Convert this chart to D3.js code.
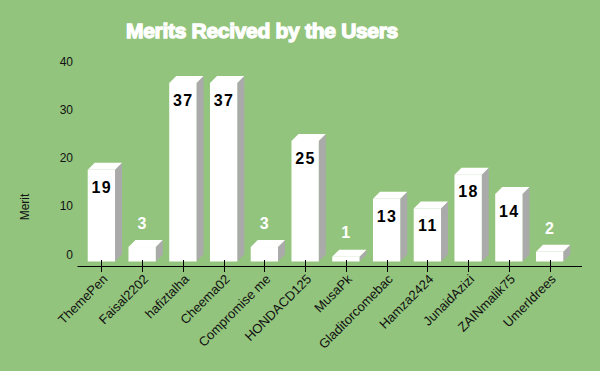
<!DOCTYPE html>
<html>
<head>
<meta charset="utf-8">
<script src="https://cdn.jsdelivr.net/npm/d3@7"></script>
<style>
  html, body { margin: 0; padding: 0; background: #93c47d; }
  svg { display: block; font-family: "Liberation Sans", Arial, sans-serif; }
</style>
</head>
<body>
<svg id="chart"></svg>
<script>
// chart data
var users = ["ThemePen", "Faisal2202", "hafiztalha", "Cheema02", "Compromise me", "HONDACD125",
  "MusaPk", "Gladitorcomebac", "Hamza2424", "JunaidAzizi", "ZAINmalik75", "UmerIdrees"];
var merits = [19, 3, 37, 37, 3, 25, 1, 13, 11, 18, 14, 2];
var yTicks = [0, 10, 20, 30, 40];

var width = 600, height = 371;
var depthX = 7, depthY = 7;

var svg = d3.select("#chart")
  .attr("width", width)
  .attr("height", height);

svg.append("rect")
  .attr("width", width)
  .attr("height", height)
  .attr("fill", "#93c47d");

var x = d3.scaleBand()
  .domain(users)
  .range([81, 570])
  .paddingInner(0.33)
  .paddingOuter(0.165);

// back plane scale, the front face sits depthY lower
var y = d3.scaleLinear()
  .domain([0, 40])
  .range([254.5, 61.5]);

// title
svg.append("text")
  .attr("x", 262)
  .attr("y", 38)
  .attr("text-anchor", "middle")
  .attr("fill", "#fff")
  .attr("stroke", "#fff")
  .attr("stroke-width", 1.3)
  .style("font-size", "21px")
  .style("font-weight", "bold")
  .style("letter-spacing", "-0.3px")
  .text("Merits Recived by the Users");

// y axis labels, no line
svg.append("g")
  .selectAll("text")
  .data(yTicks)
  .enter()
  .append("text")
  .attr("x", 73)
  .attr("y", function (d) { return y(d); })
  .attr("dy", "0.35em")
  .attr("text-anchor", "end")
  .attr("fill", "#111")
  .style("font-size", "12px")
  .text(function (d) { return d; });

svg.append("text")
  .attr("transform", "translate(29,207) rotate(-90)")
  .attr("text-anchor", "middle")
  .attr("fill", "#111")
  .style("font-size", "12px")
  .text("Merit");

// bars
var bars = svg.append("g")
  .selectAll("g")
  .data(merits)
  .enter()
  .append("g");

bars.append("path")
  .attr("fill", "#aaaaaa")
  .attr("d", function (d, i) {
    var x1 = x(users[i]) + x.bandwidth();
    var top = y(d) + depthY, bot = y(0) + depthY;
    return "M" + x1 + "," + top + "L" + (x1 + depthX) + "," + (top - depthY) +
      "L" + (x1 + depthX) + "," + (bot - depthY) + "L" + x1 + "," + bot + "Z";
  });

bars.append("path")
  .attr("fill", "#ffffff")
  .attr("d", function (d, i) {
    var x0 = x(users[i]), x1 = x0 + x.bandwidth();
    var top = y(d) + depthY;
    return "M" + x0 + "," + top + "L" + (x0 + depthX) + "," + (top - depthY) +
      "L" + (x1 + depthX) + "," + (top - depthY) + "L" + x1 + "," + top + "Z";
  });

bars.append("rect")
  .attr("fill", "#ffffff")
  .attr("x", function (d, i) { return x(users[i]); })
  .attr("y", function (d) { return y(d) + depthY; })
  .attr("width", x.bandwidth())
  .attr("height", function (d) { return y(0) - y(d); });

bars.append("text")
  .attr("x", function (d, i) { return x(users[i]) + x.bandwidth() / 2 + 0.5; })
  .attr("y", function (d) { return d > 5 ? y(d) + depthY + 17 : y(d) + depthY - 24; })
  .attr("dy", "0.36em")
  .attr("text-anchor", "middle")
  .attr("fill", function (d) { return d > 5 ? "#000" : "#fff"; })
  .style("font-size", "16px")
  .style("font-weight", "bold")
  .style("letter-spacing", "1.5px")
  .text(function (d) { return d; });

// x axis
var axis = svg.append("g");
axis.append("line")
  .attr("x1", 77.5).attr("x2", 582)
  .attr("y1", 266.5).attr("y2", 266.5)
  .attr("stroke", "#000");

axis.selectAll(".tick")
  .data(users)
  .enter()
  .append("line")
  .attr("class", "tick")
  .attr("x1", function (d) { return Math.round(x(d) + x.bandwidth() / 2) + 0.5; })
  .attr("x2", function (d) { return Math.round(x(d) + x.bandwidth() / 2) + 0.5; })
  .attr("y1", 260)
  .attr("y2", 272)
  .attr("stroke", "#000");

axis.selectAll(".lbl")
  .data(users)
  .enter()
  .append("text")
  .attr("class", "lbl")
  .attr("text-anchor", "end")
  .attr("fill", "#111")
  .style("font-size", "13px")
  .attr("transform", function (d) {
    return "translate(" + (x(d) + x.bandwidth() / 2 + 7) + ",280) rotate(-45)";
  })
  .text(function (d) { return d; });
</script>
</body>
</html>
